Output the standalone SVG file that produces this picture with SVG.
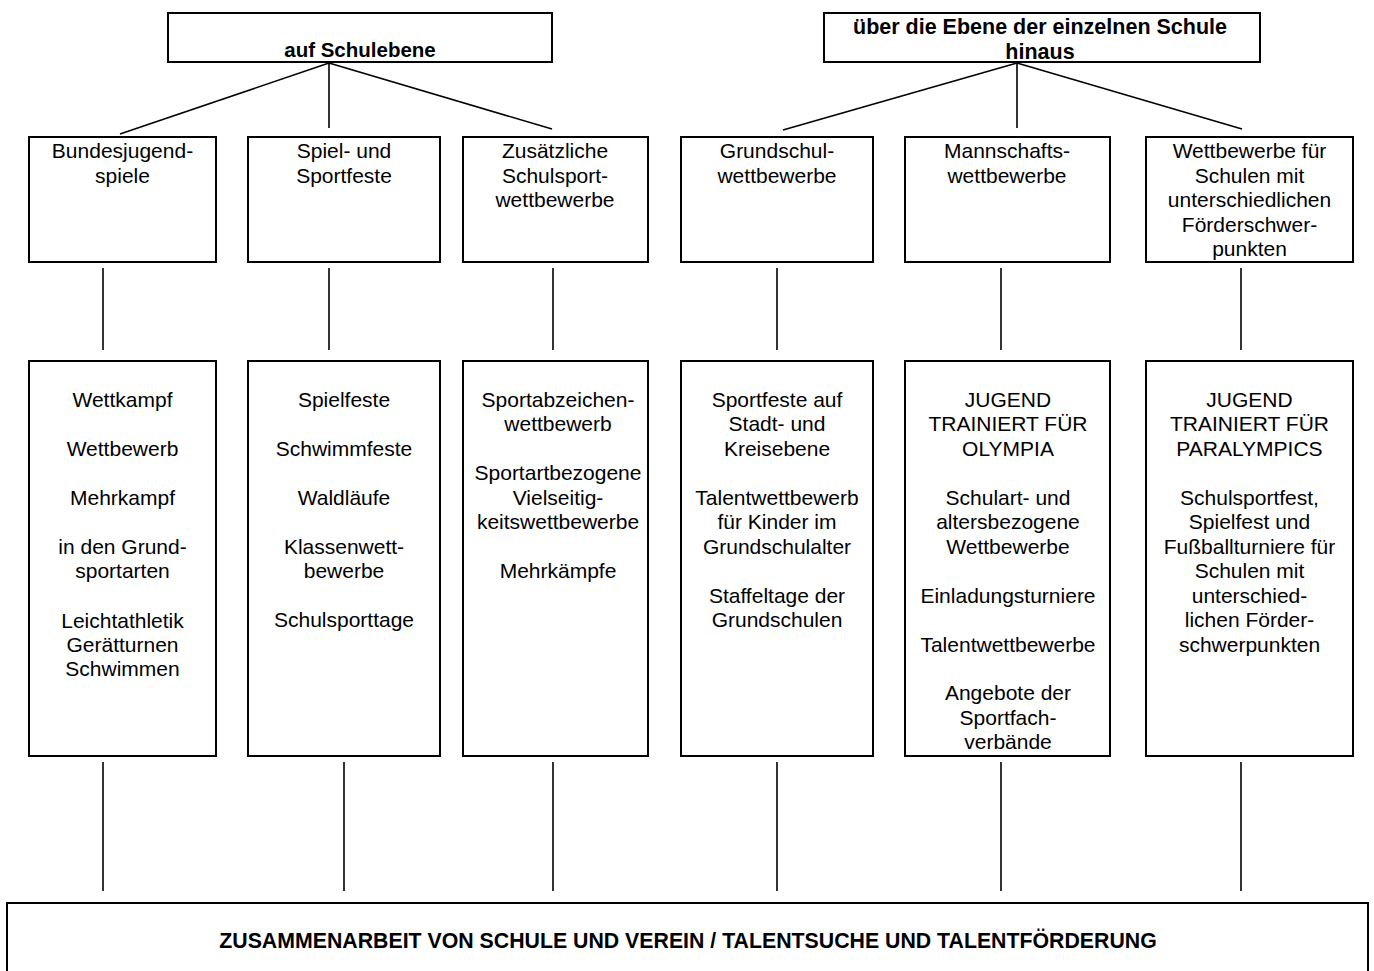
<svg xmlns="http://www.w3.org/2000/svg" width="1374" height="971" viewBox="0 0 1374 971">
  <style>
    .box { fill: #fff; stroke: #000; stroke-width: 2; }
    .link { stroke: #000; stroke-width: 1.6; fill: none; }
    .t { font-family: "Liberation Sans", Arial, sans-serif; font-size: 21px; fill: #000; text-anchor: middle; }
    .h { font-family: "Liberation Sans", Arial, sans-serif; font-weight: bold; fill: #000; text-anchor: middle; }
  </style>
  <rect width="1374" height="971" fill="#fff"/>

  <!-- connectors -->
  <g id="connectors">
    <!-- fan from "auf Schulebene" -->
    <line class="link" x1="329" y1="63" x2="120" y2="134"/>
    <line class="link" x1="329" y1="63" x2="329" y2="128"/>
    <line class="link" x1="329" y1="63" x2="552" y2="129"/>
    <!-- fan from "über die Ebene der einzelnen Schule hinaus" -->
    <line class="link" x1="1017" y1="63" x2="783" y2="130"/>
    <line class="link" x1="1017" y1="63" x2="1017" y2="128"/>
    <line class="link" x1="1017" y1="63" x2="1242" y2="129"/>
    <!-- category to detail -->
    <line class="link" x1="103" y1="268" x2="103" y2="350"/>
    <line class="link" x1="329" y1="268" x2="329" y2="350"/>
    <line class="link" x1="553" y1="268" x2="553" y2="350"/>
    <line class="link" x1="777" y1="268" x2="777" y2="350"/>
    <line class="link" x1="1001" y1="268" x2="1001" y2="350"/>
    <line class="link" x1="1241" y1="268" x2="1241" y2="350"/>
    <!-- detail to cooperation bar -->
    <line class="link" x1="103" y1="762" x2="103" y2="891"/>
    <line class="link" x1="344" y1="762" x2="344" y2="891"/>
    <line class="link" x1="553" y1="762" x2="553" y2="891"/>
    <line class="link" x1="777" y1="762" x2="777" y2="891"/>
    <line class="link" x1="1001" y1="762" x2="1001" y2="891"/>
    <line class="link" x1="1241" y1="762" x2="1241" y2="891"/>
  </g>

  <!-- level headers -->
  <g id="schulebene">
    <rect class="box" x="168" y="13" width="384" height="49"/>
    <text class="h" x="360" y="57" font-size="20.5">auf Schulebene</text>
  </g>
  <g id="ueberschulisch">
    <rect class="box" x="824" y="13" width="436" height="49"/>
    <text class="h" x="1040" y="34" font-size="21.5">über die Ebene der einzelnen Schule</text>
    <text class="h" x="1040" y="59" font-size="21.5">hinaus</text>
  </g>

  <!-- categories -->
  <g id="bundesjugendspiele">
    <rect class="box" x="29" y="137" width="187" height="125"/>
    <text class="t" x="122.5" y="158">Bundesjugend-</text>
    <text class="t" x="122.5" y="183">spiele</text>
  </g>
  <g id="sportfeste">
    <rect class="box" x="248" y="137" width="192" height="125"/>
    <text class="t" x="344" y="158">Spiel- und</text>
    <text class="t" x="344" y="183">Sportfeste</text>
  </g>
  <g id="schulsportwettbewerbe">
    <rect class="box" x="463" y="137" width="185" height="125"/>
    <text class="t" x="555" y="158">Zusätzliche</text>
    <text class="t" x="555" y="183">Schulsport-</text>
    <text class="t" x="555" y="207">wettbewerbe</text>
  </g>
  <g id="grundschulwettbewerbe">
    <rect class="box" x="681" y="137" width="192" height="125"/>
    <text class="t" x="777" y="158">Grundschul-</text>
    <text class="t" x="777" y="183">wettbewerbe</text>
  </g>
  <g id="mannschaftswettbewerbe">
    <rect class="box" x="905" y="137" width="205" height="125"/>
    <text class="t" x="1007" y="158">Mannschafts-</text>
    <text class="t" x="1007" y="183">wettbewerbe</text>
  </g>
  <g id="foerderschwerpunkte">
    <rect class="box" x="1146" y="137" width="207" height="125"/>
    <text class="t" x="1249.5" y="158">Wettbewerbe für</text>
    <text class="t" x="1249.5" y="183">Schulen mit</text>
    <text class="t" x="1249.5" y="207">unterschiedlichen</text>
    <text class="t" x="1249.5" y="232">Förderschwer-</text>
    <text class="t" x="1249.5" y="256">punkten</text>
  </g>

  <!-- details -->
  <g id="bundesjugendspiele-details">
    <rect class="box" x="29" y="361" width="187" height="395"/>
    <text class="t" x="122.5" y="407">Wettkampf</text>
    <text class="t" x="122.5" y="456">Wettbewerb</text>
    <text class="t" x="122.5" y="505">Mehrkampf</text>
    <text class="t" x="122.5" y="554">in den Grund-</text>
    <text class="t" x="122.5" y="578">sportarten</text>
    <text class="t" x="122.5" y="628">Leichtathletik</text>
    <text class="t" x="122.5" y="652">Gerätturnen</text>
    <text class="t" x="122.5" y="676">Schwimmen</text>
  </g>
  <g id="sportfeste-details">
    <rect class="box" x="248" y="361" width="192" height="395"/>
    <text class="t" x="344" y="407">Spielfeste</text>
    <text class="t" x="344" y="456">Schwimmfeste</text>
    <text class="t" x="344" y="505">Waldläufe</text>
    <text class="t" x="344" y="554">Klassenwett-</text>
    <text class="t" x="344" y="578">bewerbe</text>
    <text class="t" x="344" y="627">Schulsporttage</text>
  </g>
  <g id="schulsportwettbewerbe-details">
    <rect class="box" x="463" y="361" width="185" height="395"/>
    <text class="t" x="558" y="407">Sportabzeichen-</text>
    <text class="t" x="558" y="431">wettbewerb</text>
    <text class="t" x="558" y="480">Sportartbezogene</text>
    <text class="t" x="558" y="505">Vielseitig-</text>
    <text class="t" x="558" y="529">keitswettbewerbe</text>
    <text class="t" x="558" y="578">Mehrkämpfe</text>
  </g>
  <g id="grundschulwettbewerbe-details">
    <rect class="box" x="681" y="361" width="192" height="395"/>
    <text class="t" x="777" y="407">Sportfeste auf</text>
    <text class="t" x="777" y="431">Stadt- und</text>
    <text class="t" x="777" y="456">Kreisebene</text>
    <text class="t" x="777" y="505">Talentwettbewerb</text>
    <text class="t" x="777" y="529">für Kinder im</text>
    <text class="t" x="777" y="554">Grundschulalter</text>
    <text class="t" x="777" y="603">Staffeltage der</text>
    <text class="t" x="777" y="627">Grundschulen</text>
  </g>
  <g id="mannschaftswettbewerbe-details">
    <rect class="box" x="905" y="361" width="205" height="395"/>
    <text class="t" x="1008" y="407">JUGEND</text>
    <text class="t" x="1008" y="431">TRAINIERT FÜR</text>
    <text class="t" x="1008" y="456">OLYMPIA</text>
    <text class="t" x="1008" y="505">Schulart- und</text>
    <text class="t" x="1008" y="529">altersbezogene</text>
    <text class="t" x="1008" y="554">Wettbewerbe</text>
    <text class="t" x="1008" y="603">Einladungsturniere</text>
    <text class="t" x="1008" y="652">Talentwettbewerbe</text>
    <text class="t" x="1008" y="700">Angebote der</text>
    <text class="t" x="1008" y="725">Sportfach-</text>
    <text class="t" x="1008" y="749">verbände</text>
  </g>
  <g id="foerderschwerpunkte-details">
    <rect class="box" x="1146" y="361" width="207" height="395"/>
    <text class="t" x="1249.5" y="407">JUGEND</text>
    <text class="t" x="1249.5" y="431">TRAINIERT FÜR</text>
    <text class="t" x="1249.5" y="456">PARALYMPICS</text>
    <text class="t" x="1249.5" y="505">Schulsportfest,</text>
    <text class="t" x="1249.5" y="529">Spielfest und</text>
    <text class="t" x="1249.5" y="554">Fußballturniere für</text>
    <text class="t" x="1249.5" y="578">Schulen mit</text>
    <text class="t" x="1249.5" y="603">unterschied-</text>
    <text class="t" x="1249.5" y="627">lichen Förder-</text>
    <text class="t" x="1249.5" y="652">schwerpunkten</text>
  </g>

  <!-- cooperation bar -->
  <g id="zusammenarbeit">
    <rect class="box" x="7" y="903" width="1361" height="90"/>
    <text class="h" x="688" y="948" font-size="21.3">ZUSAMMENARBEIT VON SCHULE UND VEREIN / TALENTSUCHE UND TALENTFÖRDERUNG</text>
  </g>
</svg>
